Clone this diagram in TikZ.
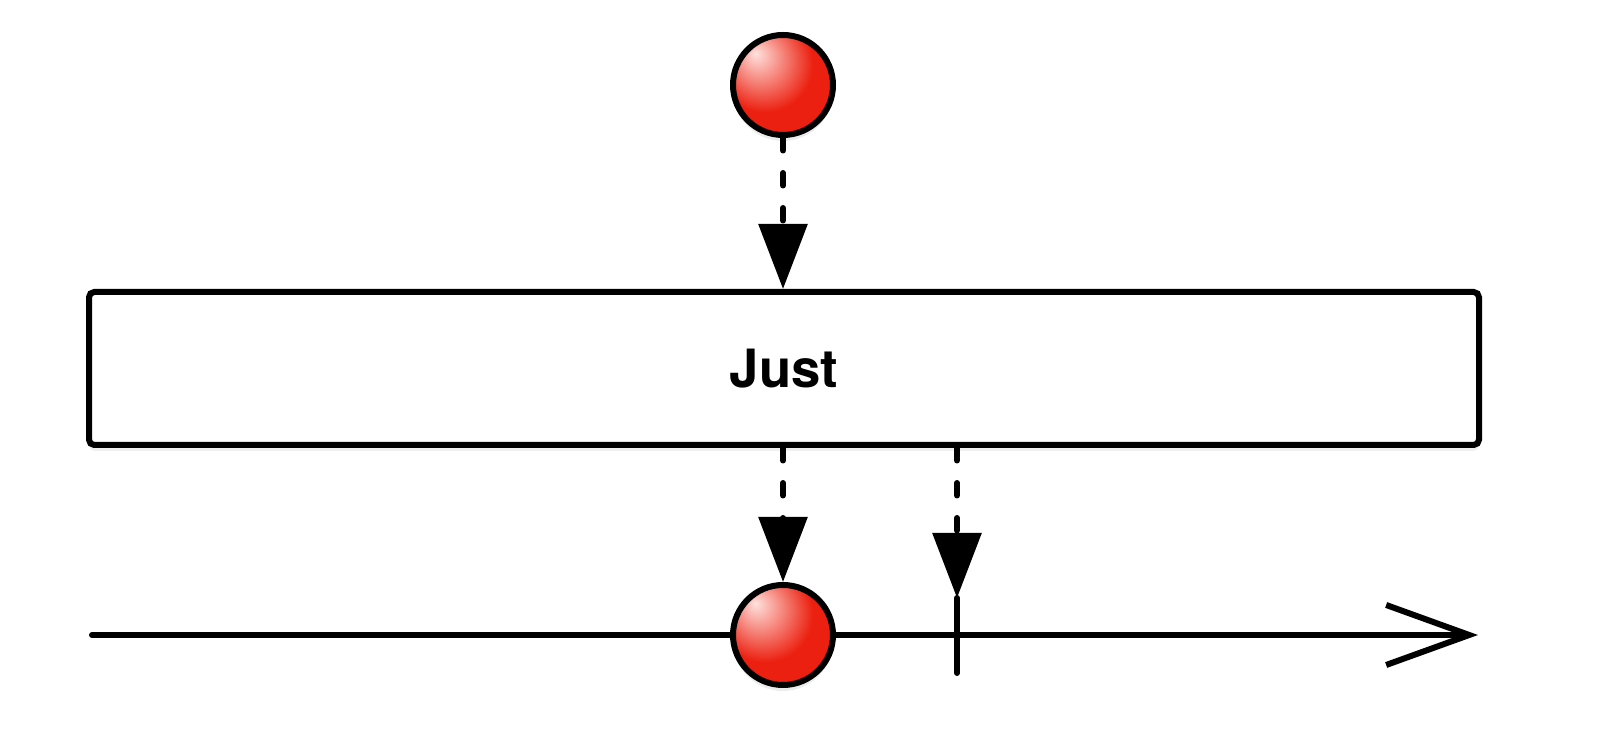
\documentclass[tikz,border=0pt]{standalone}
\usepackage{fontspec}
\setmainfont{TeX Gyre Heros}
\usetikzlibrary{arrows.meta,shadows}
\definecolor{ballred}{RGB}{236,32,16}
\definecolor{balldark}{RGB}{212,24,10}
\definecolor{ballhi}{RGB}{255,226,222}
\pgfdeclareradialshading{redball}{\pgfpoint{-14bp}{16bp}}{color(0bp)=(ballhi); color(24bp)=(ballred); color(45bp)=(ballred); color(68bp)=(balldark)}

\begin{document}
\begin{tikzpicture}[
		marble/.style={circle, minimum size=2cm, line width=0.12cm, draw=black, shading=redball,
			drop shadow={opacity=0.15, shadow xshift=0pt, shadow yshift=-0.12cm}},
		opbox/.style={rectangle, minimum width=27.8cm, minimum height=3.06cm, line width=0.12cm,
			draw=black, fill=white, rounded corners=3pt,
			drop shadow={opacity=0.12, shadow xshift=0pt, shadow yshift=-0.12cm}},
		emit/.style={line width=0.12cm, line cap=round, dash pattern=on 0.25cm off 0.45cm,
			-{Triangle[length=1.3cm, width=0.96cm]}},
		timeline/.style={line width=0.12cm, line cap=round,
			-{Straight Barb[length=1.66cm, width=1.2cm]}}
	]
		%%%%% START %%%%%
		\node[marble] (src) at (15.66, 13.06) {};
		\node[opbox] (just) at (15.68, 7.39) {\fontsize{30}{36}\selectfont\bfseries Just};
		
		\coordinate (lineStart) at (1.84, 2.06);
		\coordinate (lineEnd) at (29.56, 2.06);
		\draw[timeline] (lineStart) -- (lineEnd);
		
		\node[marble] (out) at (15.66, 2.06) {};
		
		\coordinate (tickTop) at (19.14, 2.8);
		\coordinate (tickBot) at (19.14, 1.3);
		\draw[line width=0.12cm, line cap=round] (tickTop) -- (tickBot);
		
		\draw[emit] (src.south) -- (src.south |- just.north);
		\draw[emit] (out.north |- just.south) -- (out.north);
		\draw[emit] (tickTop |- just.south) -- (tickTop);
		
		\pgfresetboundingbox
		\useasboundingbox (0, 0) rectangle (32.12, 14.76);
		%%%%% END %%%%%
	\end{tikzpicture}
\end{document}
